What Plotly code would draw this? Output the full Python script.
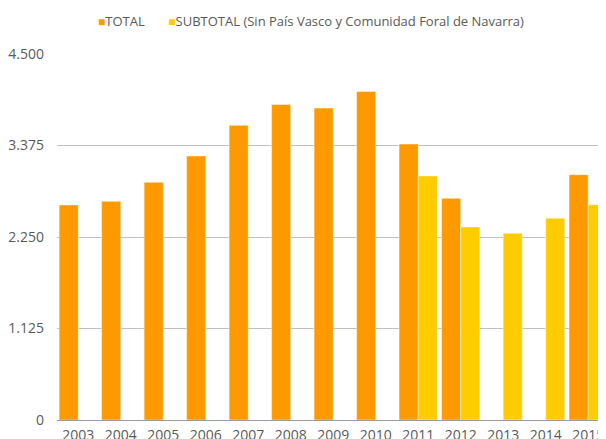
import plotly.graph_objects as go

years = ["2003", "2004", "2005", "2006", "2007", "2008", "2009",
         "2010", "2011", "2012", "2013", "2014", "2015"]
total = [2644, 2689, 2923, 3246, 3623, 3880, 3835,
         4040, 3393, 2726, None, None, 3016]
subtotal = [None, None, None, None, None, None, None,
            None, 3000, 2374, 2296, 2481, 2648]
y_ticks = [0, 1125, 2250, 3375, 4500]

ORANGE = "#FF9900"
YELLOW = "#FFCC00"
TEXT = "#595959"
FONT = "'Open Sans', sans-serif"

fig = go.Figure()
fig.add_trace(go.Bar(x=years, y=total, name="TOTAL",
                     marker=dict(color=ORANGE, line=dict(color="rgba(255,255,255,0.45)", width=1))))
fig.add_trace(go.Bar(x=years, y=subtotal,
                     name="SUBTOTAL (Sin País Vasco y Comunidad Foral de Navarra)",
                     marker=dict(color=YELLOW, line=dict(color="rgba(255,255,255,0.45)", width=1))))

# legend drawn as a single centred line, like the original
legend_text = (f'<span style="color:{ORANGE};font-size:12px">■</span>TOTAL'
               '&nbsp;&nbsp;&nbsp;&nbsp;&nbsp;&nbsp;&nbsp;'
               f'<span style="color:{YELLOW};font-size:12px">■</span>'
               'SUBTOTAL (Sin País Vasco y Comunidad Foral de Navarra)')
fig.add_annotation(text=legend_text, xref="paper", yref="paper",
                   x=0.462, y=1.0, yshift=33, xanchor="center", yanchor="middle",
                   showarrow=False, font=dict(family=FONT, size=13, color=TEXT))

# the page body adds an 8px margin, so the figure is 8px smaller each way
fig.update_layout(
    width=598, height=431,
    margin=dict(l=49, r=0, t=46, b=19),
    paper_bgcolor="white", plot_bgcolor="white",
    barmode="group", bargap=0.1, bargroupgap=0,
    showlegend=False,
    separators=",.",
    font=dict(family=FONT, size=13, color=TEXT),
)
fig.update_xaxes(range=[-0.5, 12.42], showgrid=False, showline=True,
                 linecolor="#9A9A9A", linewidth=1, ticks="", automargin=False,
                 ticklabelstandoff=2, tickfont=dict(size=14, color=TEXT))
fig.update_yaxes(range=[0, 4500], tickvals=y_ticks, tickformat=",d",
                 showgrid=True, gridcolor="#BFBFBF", gridwidth=1,
                 zeroline=False, showline=False, ticks="", automargin=False,
                 ticklabelstandoff=12, tickfont=dict(size=14, color=TEXT))

fig.write_html("out.html")
